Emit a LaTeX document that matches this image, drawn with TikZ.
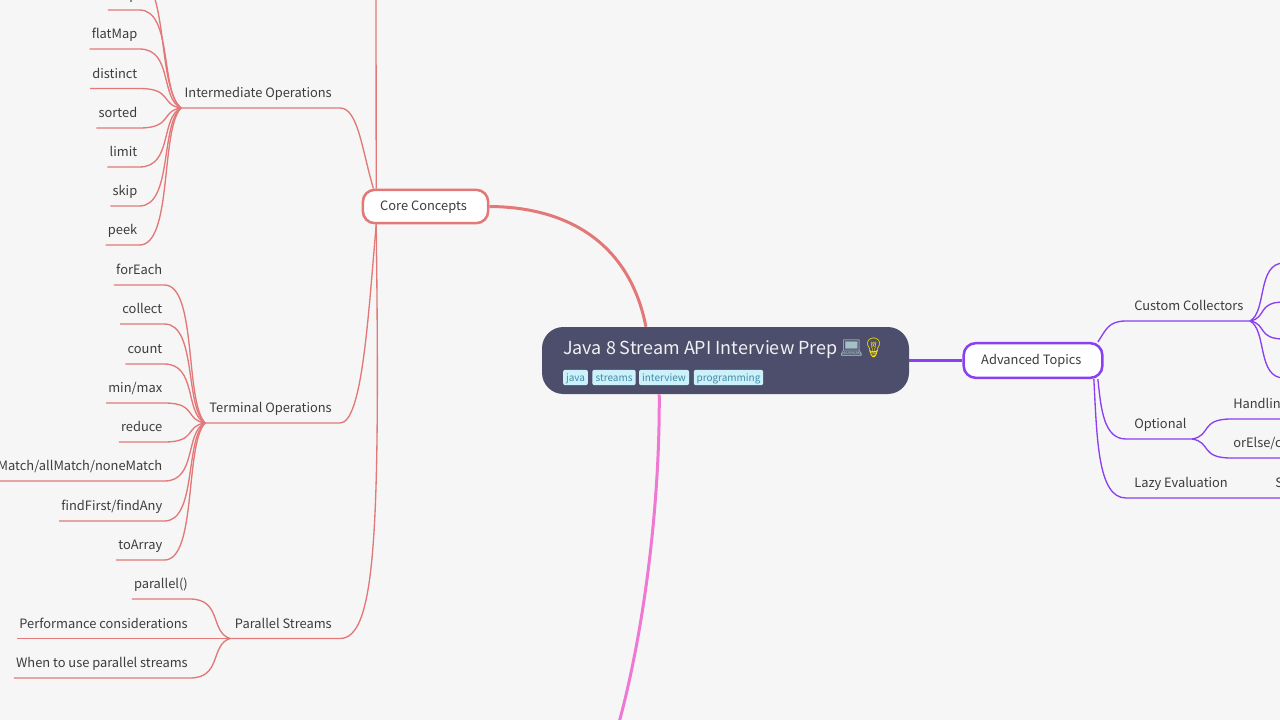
\documentclass[tikz,border=0pt]{standalone}
\usepackage{fontspec}
\setmainfont{Noto Sans CJK SC}
\newfontfamily\emojifont{Noto Emoji}
\usetikzlibrary{calc}
\definecolor{pagebg}{HTML}{F6F6F6}
\definecolor{rootfill}{HTML}{4C4E6B}
\definecolor{tagfill}{HTML}{CDF1FA}
\definecolor{tagtext}{HTML}{3F8CA5}
\definecolor{corered}{HTML}{E27878}
\definecolor{topicpurple}{HTML}{8A3FF0}
\definecolor{pinkline}{HTML}{EE78D2}
\definecolor{labeltext}{HTML}{3C3C3C}
\tikzstyle{box} = [rectangle, rounded corners = 9pt, fill = white, line width = 1.9pt, text = labeltext, text height = 6.1pt, text depth = 0pt, font = \fontsize{9.65pt}{12pt}\selectfont, inner sep = 0pt]
\tikzstyle{leaf} = [anchor = south east, inner xsep = 1.5pt, inner ysep = 1.5pt, text height = 8pt, text depth = 5.85pt, text = labeltext, font = \fontsize{9.65pt}{12pt}\selectfont]
\tikzstyle{rightleaf} = [leaf, anchor = south west]
\tikzstyle{branch} = [leaf, inner xsep = 6pt]
\tikzstyle{rightbranch} = [branch, anchor = south west]
\tikzstyle{tag} = [fill = tagfill, text = tagtext, rounded corners = 1.5pt, inner sep = 0pt, minimum height = 11.5pt, text height = 6.5pt, text depth = 0.8pt, font = \fontsize{7.5pt}{10pt}\selectfont]
\tikzstyle{coreline} = [corered, line width = 1pt]
\tikzstyle{topicline} = [topicpurple, line width = 1pt]
\tikzstyle{twig} = [to path = {let \p1 = (\tikztostart), \p2 = (\tikztotarget) in .. controls ({\x1 + 0.8 * (\x2 - \x1)}, \y1) and ({\x2 - 0.5 * (\x2 - \x1)}, {\y2 + 0.16 * (\y1 - \y2)}) .. (\p2)}]

\begin{document}
\begin{tikzpicture}[x = 0.75pt, y = -0.75pt]
    \useasboundingbox (0, 0) rectangle (1280, 720);
    \fill [pagebg] (0, 0) rectangle (1280, 720);
    \clip (0, 0) rectangle (1280, 720);

    % middle
    \node (root) at (725.5, 360.5) [rectangle, rounded corners = 16pt, fill = rootfill, minimum width = 275.25pt, minimum height = 50.25pt, inner sep = 0pt] {};
    \node (title) at (563, 348.3) [anchor = west, inner sep = 0pt, text = white!92!rootfill, font = \fontsize{13.45pt}{17pt}\selectfont] {Java 8 Stream API Interview Prep\hspace{-1.5pt} {\fontsize{14pt}{17pt}\selectfont\emojifont\color{tagfill!80!black}💻}\hspace{-1.5pt}{\fontsize{14.5pt}{17pt}\selectfont\emojifont\color{yellow!85!orange}💡}};
    \node (java) at (575.5, 377.5) [tag, minimum width = 18.5pt] {java};
    \node (streams) at (614, 377.5) [tag, minimum width = 32.5pt] {streams};
    \node (interview) at (664, 377.5) [tag, minimum width = 37.5pt] {interview};
    \node (programming) at (728.5, 377.5) [tag, minimum width = 52pt] {programming};

    \node (core) at (425.5, 206.5) [box, draw = corered, minimum width = 94pt, minimum height = 25pt, text height = 5.4pt] {Core Concepts\kern3pt};
    \node (advanced) at (1033, 360.5) [box, draw = topicpurple, minimum width = 104pt, minimum height = 26pt] {Advanced Topics\kern2.5pt};
    \coordinate (pinkend) at (617, 730);
    \draw [corered, line width = 2.25pt] (core.east) .. controls (570, 207) and (630, 245) .. (root.157);
    \draw [topicpurple, line width = 2.25pt] (root.east) -- (advanced.west);
    \draw [pinkline, line width = 2.25pt] (root.207) .. controls (660, 500) and (645, 630) .. (pinkend);

    % core concepts side
    \coordinate (upperend) at (376, -5);
    \draw [coreline] (upperend) -- (core.160.4);
    \node (inter) at (340, 108) [branch] {Intermediate Operations};
    \node (terminal) at (340, 423) [branch] {Terminal Operations};
    \node (parallelstreams) at (340, 638.5) [branch] {Parallel Streams};
    \coordinate (interhub) at (181, 108);
    \coordinate (terminalhub) at (205, 423);
    \coordinate (parallelhub) at (230, 638.5);
    \draw [coreline] (interhub) -- (inter.south east) .. controls (358, 108) and (362, 150) .. (core.161.4);
    \draw [coreline] (terminalhub) -- (terminal.south east) .. controls (362, 423) and (368, 320) .. (core.200);
    \draw [coreline] (parallelhub) -- (parallelstreams.south east) .. controls (376, 638.5) and (380, 530) .. (core.200.75);

    % intermediate operations
    \coordinate (filterend) at (130, -29);
    \node (map) at (139.5, 10) [leaf] {map};
    \node (flatmap) at (139.5, 49) [leaf] {flatMap};
    \node (distinct) at (139.5, 88.5) [leaf] {distinct};
    \node (sorted) at (139.5, 128) [leaf] {sorted};
    \node (limit) at (139.5, 167) [leaf] {limit};
    \node (skip) at (139.5, 206) [leaf] {skip};
    \node (peek) at (139.5, 245) [leaf] {peek};
    \draw [coreline] (filterend) to [twig] (interhub);
    \draw [coreline] (map.south west) -- (map.south east) to [twig] (interhub);
    \draw [coreline] (flatmap.south west) -- (flatmap.south east) to [twig] (interhub);
    \draw [coreline] (distinct.south west) -- (distinct.south east) to [twig] (interhub);
    \draw [coreline] (sorted.south west) -- (sorted.south east) to [twig] (interhub);
    \draw [coreline] (limit.south west) -- (limit.south east) to [twig] (interhub);
    \draw [coreline] (skip.south west) -- (skip.south east) to [twig] (interhub);
    \draw [coreline] (peek.south west) -- (peek.south east) to [twig] (interhub);

    % terminal operations
    \node (foreach) at (164.5, 285) [leaf] {forEach};
    \node (collect) at (164.5, 324) [leaf] {collect};
    \node (count) at (164.5, 364) [leaf] {count};
    \node (minmax) at (164.5, 403) [leaf] {min/max};
    \node (reduce) at (164.5, 442) [leaf] {reduce};
    \node (anymatch) at (164.5, 481) [leaf] {Match/allMatch/noneMatch};
    \node (findfirst) at (164.5, 521) [leaf] {findFirst/findAny};
    \node (toarray) at (164.5, 560) [leaf] {toArray};
    \draw [coreline] (foreach.south west) -- (foreach.south east) to [twig] (terminalhub);
    \draw [coreline] (collect.south west) -- (collect.south east) to [twig] (terminalhub);
    \draw [coreline] (count.south west) -- (count.south east) to [twig] (terminalhub);
    \draw [coreline] (minmax.south west) -- (minmax.south east) to [twig] (terminalhub);
    \draw [coreline] (reduce.south west) -- (reduce.south east) to [twig] (terminalhub);
    \draw [coreline] (anymatch.south west) -- (anymatch.south east) to [twig] (terminalhub);
    \draw [coreline] (findfirst.south west) -- (findfirst.south east) to [twig] (terminalhub);
    \draw [coreline] (toarray.south west) -- (toarray.south east) to [twig] (terminalhub);

    % parallel streams
    \node (parallel) at (190, 599) [leaf] {parallel()};
    \node (performance) at (190, 638.5) [leaf] {Performance considerations};
    \node (whentouse) at (190, 678) [leaf] {When to use parallel streams};
    \draw [coreline] (parallel.south west) -- (parallel.south east) to [twig] (parallelhub);
    \draw [coreline] (performance.south west) -- (parallelhub);
    \draw [coreline] (whentouse.south west) -- (whentouse.south east) to [twig] (parallelhub);

    % advanced topics side
    \node (collectors) at (1126, 321) [rightbranch] {Custom Collectors};
    \node (optional) at (1126, 439) [rightbranch] {Optional};
    \node (lazy) at (1126, 498) [rightbranch] {Lazy Evaluation};
    \coordinate (collectorshub) at (1250, 321);
    \coordinate (optionalhub) at (1192, 439);
    \draw [topicline] (advanced.16) .. controls (1106, 330) and (1108, 321) .. (collectors.south west) -- (collectorshub);
    \draw [topicline] (advanced.-16.5) .. controls (1101, 410) and (1104, 439) .. (optional.south west) -- (optionalhub);
    \coordinate (collectorsa) at (1284, 263);
    \coordinate (collectorsb) at (1284, 302);
    \coordinate (collectorsc) at (1284, 339);
    \coordinate (collectorsd) at (1284, 378);
    \draw [topicline] (collectorsa) to [twig] (collectorshub);
    \draw [topicline] (collectorsb) to [twig] (collectorshub);
    \draw [topicline] (collectorsc) to [twig] (collectorshub);
    \draw [topicline] (collectorsd) to [twig] (collectorshub);
    \node (handling) at (1231, 419) [rightleaf] {Handlin};
    \node (orelse) at (1231, 458) [rightleaf] {orElse/c};
    \node (lazychild) at (1273, 498) [rightleaf] {S};
    \draw [topicline] (handling.south east) -- (handling.south west) to [twig] (optionalhub);
    \draw [topicline] (orelse.south east) -- (orelse.south west) to [twig] (optionalhub);
    \draw [topicline] (advanced.-17.5) .. controls (1097, 440) and (1098, 498) .. (lazy.south west) -- (lazy.south east) -- (lazychild.south west) -- (lazychild.south east);
\end{tikzpicture}
\end{document}
